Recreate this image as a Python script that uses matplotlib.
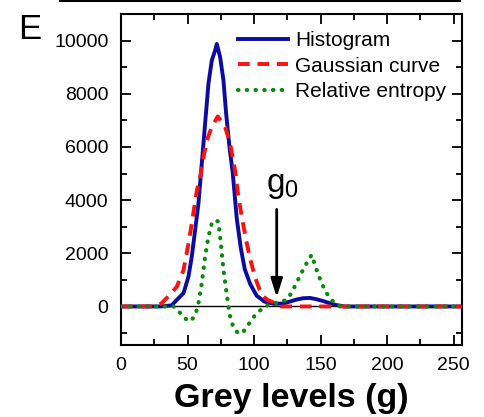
import matplotlib
matplotlib.use("Agg")
import matplotlib.pyplot as plt
from matplotlib.lines import Line2D
from matplotlib.ticker import MultipleLocator

plt.rcParams['font.family'] = ['Liberation Sans', 'DejaVu Sans']
plt.rcParams['mathtext.fontset'] = 'custom'
plt.rcParams['mathtext.rm'] = 'Liberation Sans'
plt.rcParams['mathtext.it'] = 'Liberation Sans'

# ---- data ----
hist_x = [0, 30, 38, 42, 47, 50.7, 53.2, 55.7, 58.2, 60.7, 63.2, 65.7, 68.2, 70.7, 72, 74.5, 77, 79,
          81.5, 84, 87, 90, 93, 97, 102, 108, 115, 122, 132, 137, 142, 147, 152, 157, 162, 168, 256]
hist_y = [0, 0, 40, 250, 500, 1125, 1875, 2875, 3875, 5375, 6875, 8375, 9250, 9625, 9875, 9375,
          8500, 7250, 6000, 5000, 3300, 2200, 1400, 850, 400, 180, 100, 110, 260, 310, 320, 270,
          200, 120, 50, 0, 0]

gauss_x = [0, 25, 30, 37, 42, 47, 50.7, 53.2, 57, 59.5, 62, 64.5, 68.2, 72.7, 78.2, 82, 85.7, 88,
           91, 94, 97, 100.7, 104, 107, 110, 114.5, 120, 256]
gauss_y = [0, 0, 100, 450, 750, 1375, 2375, 3125, 4375, 4875, 5625, 6250, 6750, 7150, 6750, 6125,
           5125, 4200, 3300, 2500, 1800, 1100, 650, 375, 250, 150, 0, 0]

ent_x = [0, 39.5, 44.5, 48, 52, 55.7, 58.2, 60.7, 63.2, 65.7, 68.2, 70.7, 73.2, 75, 77, 79, 80.7, 82,
         84.5, 87, 89.5, 92, 94.5, 97, 99.5, 104.5, 110.7, 115.7, 121, 124.5, 128, 133, 138, 143.2,
         147, 150.7, 154.5, 158, 161, 165, 256]
ent_y = [0, 0, -250, -450, -560, -350, 125, 875, 1875, 2625, 3125, 3250, 3190, 2375, 1375, 625, 0,
         -375, -800, -950, -1030, -950, -750, -600, -400, -150, 60, 125, 190, 250, 500, 1000, 1500,
         1940, 1375, 875, 500, 250, 120, 0, 0]

labels = ["Histogram", "Gaussian curve", "Relative entropy"]
g0 = 117
g0_arrow = [3650, 350]
x_ticks = [0, 50, 100, 150, 200, 250]
y_ticks = [0, 2000, 4000, 6000, 8000, 10000]

fig = plt.figure(figsize=(4.84, 4.17), dpi=100)
ax = fig.add_axes([121/484, 1 - 345/417, (461.7 - 121)/484, (345 - 14)/417])

ax.axhline(0, color='black', lw=1.0, zorder=1)
ax.plot(hist_x, hist_y, color='#0c0ca0', lw=2.8, label=labels[0], zorder=3)
ax.plot(gauss_x, gauss_y, color='#ff1010', lw=2.8, linestyle=(0, (3.0, 2.0)), label=labels[1], zorder=4)
ax.plot(ent_x, ent_y, color='#0a8a0a', lw=3.0, linestyle=(0, (0.1, 2.0)),
        dash_capstyle='round', label=labels[2], zorder=5)

ax.annotate('', xy=(g0, g0_arrow[1]), xytext=(g0, g0_arrow[0]),
            arrowprops=dict(arrowstyle='-|>,head_length=1.1,head_width=0.35', color='black', lw=2.0,
                            shrinkA=0, shrinkB=0), zorder=6)
ax.text(g0 + 4.5, 3950, r'g$_0$', fontsize=24, ha='center', va='bottom')

ax.set_xlim(0, 256)
ax.set_ylim(-1450, 11000)
ax.set_xticks(x_ticks)
ax.set_yticks(y_ticks)
ax.xaxis.set_minor_locator(MultipleLocator(25))
ax.yaxis.set_minor_locator(MultipleLocator(1000))
ax.tick_params(which='both', direction='in', top=True, right=True, labelsize=14, width=1.3)
ax.tick_params(which='major', length=7, pad=9)
ax.tick_params(which='minor', length=4)
for s in ax.spines.values():
    s.set_linewidth(1.5)

ax.set_xlabel('Grey levels (g)', fontsize=24.5, fontweight='bold', labelpad=6)

leg = ax.legend(loc='upper left', bbox_to_anchor=(238/484, 1 - 31/417), bbox_transform=fig.transFigure,
                frameon=False, fontsize=15, handlelength=2.4, handletextpad=0.35,
                labelspacing=0.32, borderpad=0, borderaxespad=0)

fig.text(18/484, 1 - 13/417, 'E', fontsize=25, ha='left', va='top')
fig.add_artist(Line2D([60/484, 460/484], [1 - 1/417, 1 - 1/417], color='black', lw=1.5))

fig.savefig('out.png', dpi=100)
